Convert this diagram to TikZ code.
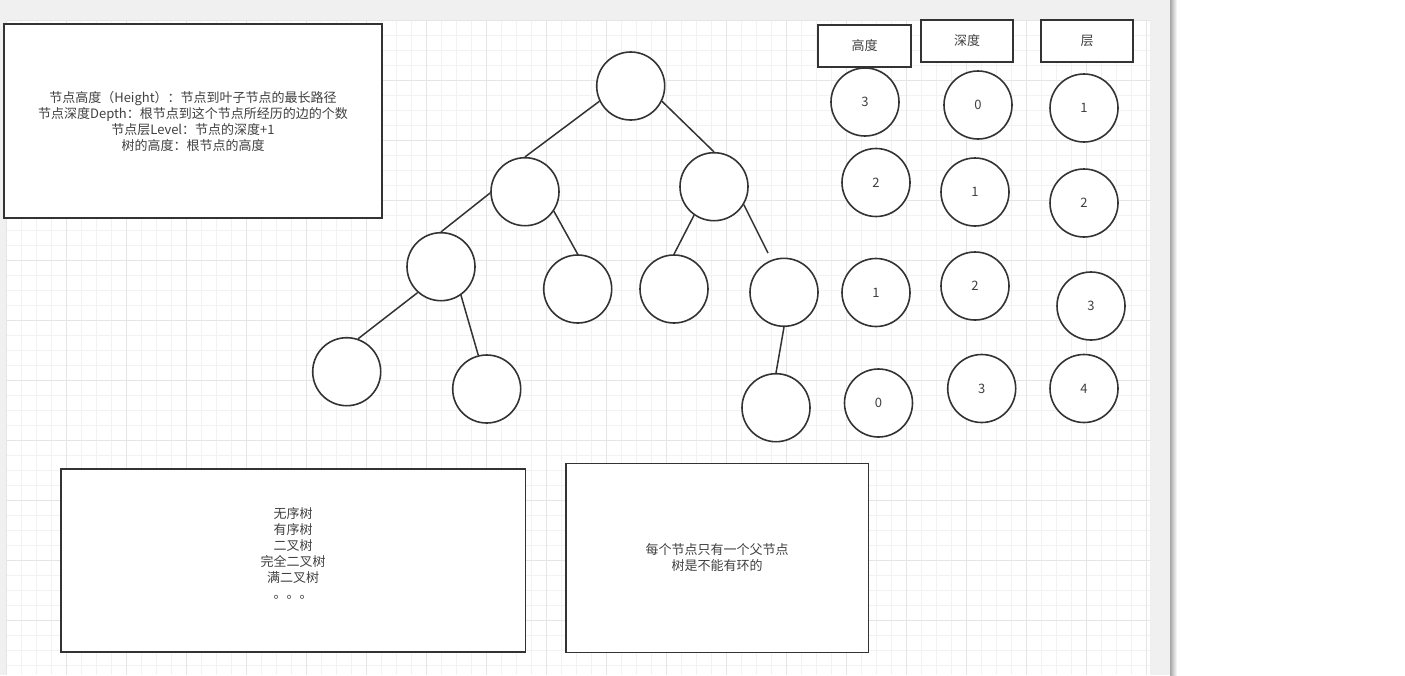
\documentclass[tikz,border=0pt]{standalone}
\usepackage{fontspec}
\setmainfont{Noto Sans CJK SC}

\begin{document}
\begin{tikzpicture}[x=1pt, y=-1pt, line width=1.6pt,
  treenode/.style={circle, draw=black!80, fill=white, minimum size=68pt, inner sep=0pt,
    font=\fontsize{13}{16}\selectfont, text=black!75},
  notebox/.style={rectangle, draw=black!80, fill=white, inner sep=0pt, align=center,
    font=\fontsize{13}{16}\selectfont, text=black!75},
  notetext/.style={align=center, inner sep=0pt, font=\fontsize{13}{16}\selectfont, text=black!75},
  edge/.style={draw=black!80, line width=1.5pt}]
\useasboundingbox (0,0) rectangle (1405,675);
% page and canvas
\fill[white] (0,0) rectangle (1405,675);
\fill[black!6] (0,0) rectangle (1170,675);
\fill[white] (6.7,20) rectangle (1150,675);
\begin{scope}[y=1pt, shift={(6.7,-20)}]
\draw[black!5, line width=0.6pt, step=15] (0,-655) grid (1143.3,0);
\draw[black!10, line width=0.6pt, step=60] (0,-655) grid (1143.3,0);
\end{scope}
\shade[left color=black!35, right color=white] (1170,0) rectangle (1177,675);

% definitions
\node[notebox, minimum width=378pt, minimum height=194pt] (defs) at (193,121)
  {节点高度（Height）：节点到叶子节点的最长路径\\节点深度Depth：根节点到这个节点所经历的边的个数\\节点层Level：节点的深度+1\\树的高度：根节点的高度};

% tree
\node[treenode] (root) at (630.7,86) {};
\node[treenode] (nl) at (525,191.7) {};
\node[treenode] (nr) at (714,186.7) {};
\node[treenode] (nll) at (441,266.7) {};
\node[treenode] (nlr) at (577.7,289) {};
\node[treenode] (nrl) at (674,289) {};
\node[treenode] (nrr) at (784,292.3) {};
\node[treenode] (nlll) at (346.7,371.7) {};
\node[treenode] (nllr) at (486.7,389) {};
\node[treenode] (nrrl) at (776,407.7) {};
\coordinate (rrtip) at (768,253);
\draw[edge] (root.206) -- (nl.north);
\draw[edge] (root.-26) -- (nr.north);
\draw[edge] (nl.182) -- (nll.north);
\draw[edge] (nl.-34) -- (nlr.north);
\draw[edge] (nr.235) -- (nrl.north);
\draw[edge] (nr.-31) -- (rrtip);
\draw[edge] (nll.228) -- (nlll.71);
\draw[edge] (nll.-55) -- (nllr.104);
\draw[edge] (nrr.south) -- (nrrl.north);

% height / depth / level columns
\node[notebox, minimum width=93pt, minimum height=42pt] (hbox) at (864.5,46) {高度};
\node[notebox, minimum width=92pt, minimum height=42pt] (dbox) at (967,41) {深度};
\node[notebox, minimum width=92pt, minimum height=42pt] (lbox) at (1087,41) {层};
\node[treenode] (h3) at (865,102) {3};
\node[treenode] (h2) at (876,182.5) {2};
\node[treenode] (h1) at (876,292.5) {1};
\node[treenode] (h0) at (878.5,403) {0};
\node[treenode] (d0) at (978,105) {0};
\node[treenode] (d1) at (975,192) {1};
\node[treenode] (d2) at (975,286) {2};
\node[treenode] (d3) at (981.7,388.5) {3};
\node[treenode] (l1) at (1084,108) {1};
\node[treenode] (l2) at (1084,203) {2};
\node[treenode] (l3) at (1091,306) {3};
\node[treenode] (l4) at (1084,388.5) {4};

% bottom notes
\node[notebox, minimum width=464.6pt, minimum height=183pt] (kinds) at (293,560.5) {};
\node[notetext] (kindstext) at (293,553) {无序树\\有序树\\二叉树\\完全二叉树\\满二叉树\\。。。};
\node[notebox, minimum width=302.6pt, minimum height=189pt] (rules) at (717,557.8)
  {每个节点只有一个父节点\\树是不能有环的};
\end{tikzpicture}
\end{document}
